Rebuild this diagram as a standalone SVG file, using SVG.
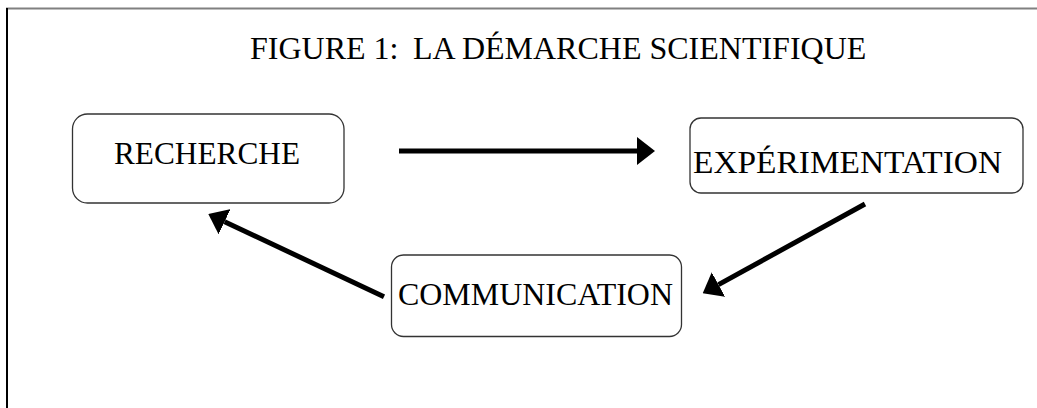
<svg xmlns="http://www.w3.org/2000/svg" width="1037" height="408" viewBox="0 0 1037 408">
<style>
  .box{fill:#fff;stroke:#333;stroke-width:1.3}
  .lbl{font-family:"Liberation Serif","Times New Roman",serif;font-size:31px;fill:#000}
  .ttl{font-family:"Liberation Serif","Times New Roman",serif;font-size:32px;fill:#000}
  .arr{stroke:#000;stroke-width:5;fill:none;marker-end:url(#ah)}
</style>
<defs>
  <marker id="ah" viewBox="0 0 18 28" refX="0" refY="14" markerWidth="18" markerHeight="28" markerUnits="userSpaceOnUse" orient="auto">
    <path d="M0,0 L18,14 L0,28 z" fill="#000"/>
  </marker>
</defs>
<rect width="1037" height="408" fill="#fff"/>
<g id="frame">
  <line x1="6" y1="8.5" x2="1037" y2="8.5" stroke="#808080" stroke-width="2"/>
  <line x1="7" y1="8" x2="7" y2="408" stroke="#000" stroke-width="2"/>
</g>
<g id="title">
  <text class="ttl" y="59"><tspan x="250">FIGURE 1:</tspan><tspan x="413">LA DÉMARCHE SCIENTIFIQUE</tspan></text>
</g>
<g id="node-recherche">
  <rect class="box" x="72.5" y="114" width="271.5" height="89" rx="15"/>
  <text class="lbl" x="207" y="164" text-anchor="middle" textLength="186" lengthAdjust="spacingAndGlyphs">RECHERCHE</text>
</g>
<g id="node-experimentation">
  <rect class="box" x="690" y="118" width="333" height="75" rx="11"/>
  <text class="lbl" x="847.5" y="173" text-anchor="middle" textLength="309" lengthAdjust="spacingAndGlyphs">EXPÉRIMENTATION</text>
</g>
<g id="node-communication">
  <rect class="box" x="391.5" y="255" width="290" height="81.5" rx="12"/>
  <text class="lbl" x="535.5" y="305" text-anchor="middle" textLength="275" lengthAdjust="spacingAndGlyphs">COMMUNICATION</text>
</g>
<g id="connectors">
  <line class="arr" x1="399" y1="151" x2="637" y2="151"/>
  <line class="arr" x1="865" y1="204" x2="718.5" y2="284.6"/>
  <line class="arr" x1="384" y1="296.7" x2="224.6" y2="221.7"/>
</g>
</svg>
